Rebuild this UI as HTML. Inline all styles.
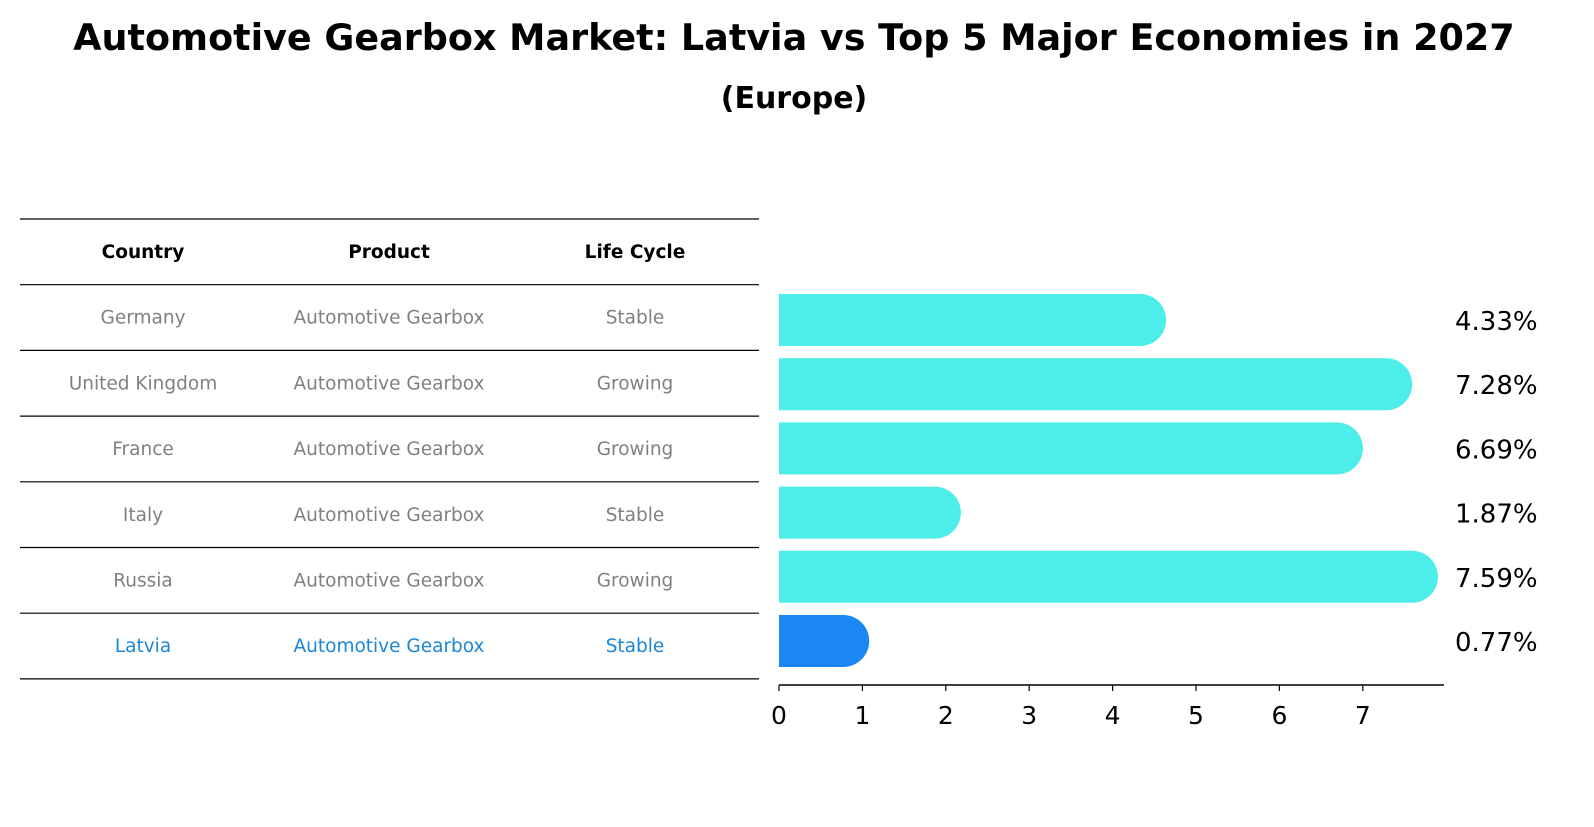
<!DOCTYPE html>
<html><head><meta charset="utf-8"><style>
body{margin:0;background:#fff;width:1594px;height:823px;overflow:hidden;font-family:"DejaVu Sans","Liberation Sans",sans-serif}
</style></head><body>
<svg width="1594" height="823" xmlns="http://www.w3.org/2000/svg" font-family="DejaVu Sans, Liberation Sans, sans-serif">
<text x="794" y="50" text-anchor="middle" font-size="36.5" font-weight="bold">Automotive Gearbox Market: Latvia vs Top 5 Major Economies in 2027</text>
<text x="794" y="108" text-anchor="middle" font-size="30" font-weight="bold">(Europe)</text>
<g id="table"></g>
<g id="bars"></g>
</svg>
<script>
const countries=["Germany","United Kingdom","France","Italy","Russia","Latvia"];
const products=["Automotive Gearbox","Automotive Gearbox","Automotive Gearbox","Automotive Gearbox","Automotive Gearbox","Automotive Gearbox"];
const lifeCycles=["Stable","Growing","Growing","Stable","Growing","Stable"];
const values=[4.33,7.28,6.69,1.87,7.59,0.77];
const valueLabels=["4.33%","7.28%","6.69%","1.87%","7.59%","0.77%"];
const xTicks=[0,1,2,3,4,5,6,7];
const NS="http://www.w3.org/2000/svg";
function mk(t,a,p){const e=document.createElementNS(NS,t);for(const k in a)e.setAttribute(k,a[k]);p.appendChild(e);return e;}
const tbl=document.getElementById('table');
const rowY=i=>219+65.7*i;
for(let i=0;i<8;i++){const l=mk('line',{x1:20,x2:759,y1:rowY(i),y2:rowY(i),stroke:'#000','stroke-width':1.2},tbl);

}
const cols=[143,389,635];
["Country","Product","Life Cycle"].forEach((h,j)=>{const t=mk('text',{x:cols[j],y:rowY(0)+39,'text-anchor':'middle','font-size':18.5,'font-weight':'bold'},tbl);t.textContent=h;

});
countries.forEach((c,i)=>{const col=i===countries.length-1?'#1a87d6':'#808080';
[c,products[i],lifeCycles[i]].forEach((s,j)=>{const t=mk('text',{x:cols[j],y:rowY(i+1)+39,'text-anchor':'middle','font-size':18.5,fill:col},tbl);t.textContent=s;

});});
const g=document.getElementById('bars');
const x0=779,ppu=83.4,xs=v=>x0+v*ppu,bh=52,cy=i=>320+64.2*i;
values.forEach((v,i)=>{const last=i===values.length-1;const col=last?'#1a87f5':'#4deeea';
const y=cy(i)-bh/2,xe=xs(v);
const p=mk('path',{d:`M${x0},${y}H${xe}A${bh/2},${bh/2} 0 0 1 ${xe},${y+bh}H${x0}Z`,fill:col},g);


const t=mk('text',{x:1455,y:cy(i)+10,'font-size':26},g);t.textContent=valueLabels[i];

});
const ax=mk('line',{x1:x0,x2:1444,y1:685,y2:685,stroke:'#000','stroke-width':1.5},g);


xTicks.forEach(v=>{const l=mk('line',{x1:xs(v),x2:xs(v),y1:685,y2:691,stroke:'#000','stroke-width':1.2},g);


const t=mk('text',{x:xs(v),y:724,'text-anchor':'middle','font-size':25},g);t.textContent=v;

});
</script>
</body></html>
